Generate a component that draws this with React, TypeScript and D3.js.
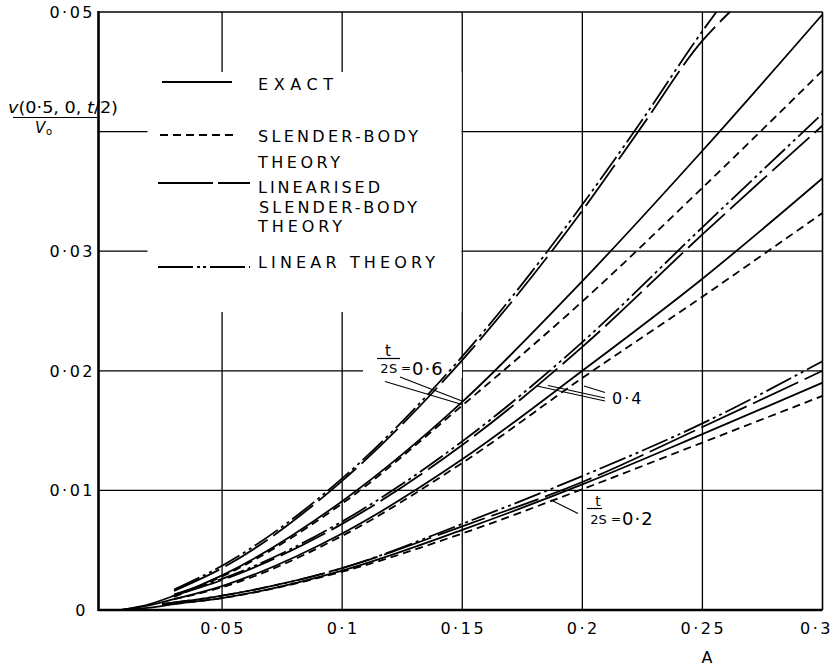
import React from 'react';
import * as d3 from 'd3';

const W = 836;
const H = 669;

// Axis ticks and grid
const xTicks = [0.05, 0.1, 0.15, 0.2, 0.25, 0.3];
const xTickLabels = ['0·05', '0·1', '0·15', '0·2', '0·25', '0·3'];
const yTicks = [0, 0.01, 0.02, 0.03, 0.05];
const yTickLabels = ['0', '0·01', '0·02', '0·03', '0·05'];
const xGrid = [0.05, 0.1, 0.15, 0.2, 0.25];
const yGrid = [0.01, 0.02, 0.03, 0.04];

// v(0.5, 0, t/2)/V0 against A, for t/2s = 0.6, 0.4, 0.2
const exact06 = [[0.008, 0], [0.02, 0.0005], [0.03, 0.0012], [0.05, 0.0029], [0.1, 0.0091], [0.15, 0.0174], [0.2, 0.0275], [0.25, 0.0384], [0.3, 0.0498]];
const slender06 = [[0.03, 0.0011], [0.05, 0.0028], [0.1, 0.0089], [0.15, 0.0171], [0.2, 0.0258], [0.25, 0.0353], [0.3, 0.0451]];
const linSlender06 = [[0.03, 0.0016], [0.05, 0.0035], [0.1, 0.0108], [0.15, 0.0209], [0.2, 0.0334], [0.225, 0.0405], [0.25, 0.0476], [0.2614, 0.05]];
const linear06 = [[0.03, 0.0017], [0.05, 0.0037], [0.1, 0.011], [0.15, 0.0212], [0.2, 0.0339], [0.225, 0.041], [0.25, 0.0484], [0.2558, 0.05]];

const exact04 = [[0.008, 0], [0.02, 0.0004], [0.03, 0.0009], [0.05, 0.002], [0.1, 0.0064], [0.15, 0.0126], [0.2, 0.02], [0.25, 0.0277], [0.3, 0.0361]];
const slender04 = [[0.03, 0.0009], [0.05, 0.0019], [0.1, 0.0062], [0.15, 0.0123], [0.2, 0.0194], [0.25, 0.0262], [0.3, 0.0332]];
const linSlender04 = [[0.03, 0.0012], [0.05, 0.0025], [0.1, 0.0072], [0.15, 0.0138], [0.2, 0.022], [0.25, 0.0314], [0.3, 0.0405]];
const linear04 = [[0.03, 0.0013], [0.05, 0.0026], [0.1, 0.0074], [0.15, 0.0141], [0.2, 0.0224], [0.25, 0.032], [0.3, 0.0415]];

const exact02 = [[0.008, 0], [0.02, 0.0002], [0.03, 0.0005], [0.05, 0.001], [0.1, 0.0033], [0.15, 0.0067], [0.2, 0.0105], [0.25, 0.0147], [0.3, 0.019]];
const slender02 = [[0.025, 0.0004], [0.05, 0.001], [0.1, 0.0032], [0.15, 0.0064], [0.2, 0.0101], [0.25, 0.014], [0.3, 0.0179]];
const linSlender02 = [[0.025, 0.0005], [0.05, 0.0012], [0.1, 0.0035], [0.15, 0.007], [0.2, 0.0107], [0.25, 0.0153], [0.3, 0.02]];
const linear02 = [[0.025, 0.0005], [0.05, 0.0012], [0.1, 0.0035], [0.15, 0.0072], [0.2, 0.0112], [0.25, 0.0156], [0.3, 0.0208]];

const DASH_SLENDER = '8,5';
const DASH_LIN_SLENDER = '50,7';
const DASH_LINEAR = '28,4,3,4,3,4';

const FONT = '"DejaVu Sans", sans-serif';

export default function App() {
  const x = d3.scaleLinear().domain([0, 0.3]).range([102, 822.5]);
  const y = d3.scaleLinear().domain([0, 0.05]).range([610, 12]);
  const line = d3
    .line<number[]>()
    .x((d) => x(d[0]))
    .y((d) => y(d[1]))
    .curve(d3.curveMonotoneX);

  const axisX = x(0) - 3.5;
  const right = x(0.3);
  const top = y(0.05);
  const bottom = y(0);

  const curves = [
    { data: exact06, dash: null },
    { data: slender06, dash: DASH_SLENDER },
    { data: linSlender06, dash: DASH_LIN_SLENDER },
    { data: linear06, dash: DASH_LINEAR },
    { data: exact04, dash: null },
    { data: slender04, dash: DASH_SLENDER },
    { data: linSlender04, dash: DASH_LIN_SLENDER },
    { data: linear04, dash: DASH_LINEAR },
    { data: exact02, dash: null },
    { data: slender02, dash: DASH_SLENDER },
    { data: linSlender02, dash: DASH_LIN_SLENDER },
    { data: linear02, dash: DASH_LINEAR },
  ];

  const legendText = { fontFamily: FONT, fontSize: 16, fill: '#000' } as const;

  return (
    <svg
      width={W}
      height={H}
      viewBox={`0 0 ${W} ${H}`}
      style={{ position: 'absolute', left: 0, top: 0, background: '#fff' }}
    >
      <rect x={0} y={0} width={W} height={H} fill="#fff" />

      {/* grid */}
      <g stroke="#000" strokeWidth={1.3}>
        {xGrid.map((v) => (
          <line key={'gx' + v} x1={x(v)} x2={x(v)} y1={top} y2={bottom} />
        ))}
        {yGrid.map((v) => (
          <line key={'gy' + v} x1={axisX} x2={right} y1={y(v)} y2={y(v)} />
        ))}
      </g>
      {/* clear space for the key and the 0.6 label */}
      <rect x={147.5} y={72} width={314} height={240} fill="#fff" />
      <rect x={363} y={364} width={99} height={14} fill="#fff" />

      {/* frame */}
      <line x1={axisX} x2={right} y1={top} y2={top} stroke="#000" strokeWidth={1.6} />
      <line x1={right} x2={right} y1={top} y2={bottom} stroke="#000" strokeWidth={1.6} />
      <line x1={axisX} x2={axisX} y1={top - 1} y2={bottom + 1} stroke="#000" strokeWidth={2.6} />
      <line x1={axisX} x2={right} y1={bottom} y2={bottom} stroke="#000" strokeWidth={2.6} />

      {/* curves */}
      <g fill="none" stroke="#000" strokeWidth={1.8}>
        {curves.map((c, i) => (
          <path key={i} d={line(c.data as number[][]) || ''} strokeDasharray={c.dash || undefined} />
        ))}
      </g>

      {/* tick labels */}
      <g fontFamily={FONT} fontSize={16} fill="#000" letterSpacing={2.5}>
        {yTicks.map((v, i) => (
          <text key={'yt' + v} x={v === 0 ? 88 : 95} y={y(v) + 6} textAnchor="end">
            {yTickLabels[i]}
          </text>
        ))}
        {xTicks.map((v, i) => (
          <text key={'xt' + v} x={x(v) + 1 - (v === 0.3 ? 7 : 0)} y={634} textAnchor="middle">
            {xTickLabels[i]}
          </text>
        ))}
      </g>
      <text x={707} y={663} fontFamily={FONT} fontSize={16} textAnchor="middle">A</text>

      {/* y-axis quantity */}
      <g fontFamily={FONT} fill="#000">
        <text x={8} y={113} fontSize={15} textLength={110} lengthAdjust="spacingAndGlyphs">
          <tspan fontStyle="italic">v</tspan>(0·5, 0, <tspan fontStyle="italic">t</tspan>/2)
        </text>
        <line x1={13} x2={97} y1={117.5} y2={117.5} stroke="#000" strokeWidth={1.2} />
        <text x={35} y={133} fontSize={15} fontStyle="italic">V</text>
        <text x={46} y={135} fontSize={10}>o</text>
      </g>

      {/* key */}
      <g stroke="#000" strokeWidth={1.8} fill="none">
        <line x1={162} x2={232} y1={82} y2={82} />
        <line x1={160} x2={236} y1={135} y2={135} strokeDasharray={DASH_SLENDER} />
        <line x1={158} x2={250} y1={183} y2={183} strokeDasharray="55,5" />
        <line x1={158} x2={250} y1={267} y2={267} strokeDasharray="35,4,3,3,3,4" />
      </g>
      <g {...legendText}>
        <text x={258} y={90} textLength={75} lengthAdjust="spacing">EXACT</text>
        <text x={258} y={142} textLength={160} lengthAdjust="spacing">SLENDER-BODY</text>
        <text x={258} y={168} textLength={82} lengthAdjust="spacing">THEORY</text>
        <text x={258} y={193} textLength={122} lengthAdjust="spacing">LINEARISED</text>
        <text x={259} y={213} textLength={158} lengthAdjust="spacing">SLENDER-BODY</text>
        <text x={258} y={232} textLength={84} lengthAdjust="spacing">THEORY</text>
        <text x={258} y={268} textLength={177} lengthAdjust="spacing">LINEAR THEORY</text>
      </g>

      {/* t/2s labels */}
      <g fontFamily={FONT} fill="#000">
        <text x={388} y={356} fontSize={15} textAnchor="middle">t</text>
        <line x1={377} x2={400} y1={358.5} y2={358.5} stroke="#000" strokeWidth={1.2} />
        <text x={389} y={373} fontSize={13} textAnchor="middle" letterSpacing={0.5}>2S</text>
        <text x={401} y={372} fontSize={12}>=</text>
        <text x={412} y={375} fontSize={18} letterSpacing={1}>0·6</text>
        <line x1={385} y1={381.5} x2={462} y2={404.5} stroke="#000" strokeWidth={1.1} />
        <line x1={400} y1={377} x2={462} y2={401} stroke="#000" strokeWidth={1.1} />

        <text x={612} y={403.5} fontSize={16} letterSpacing={2}>0·4</text>
        <line x1={537} y1={386} x2={605} y2={401} stroke="#000" strokeWidth={1.1} />
        <line x1={548} y1={385.5} x2={605} y2={398} stroke="#000" strokeWidth={1.1} />
        <line x1={584} y1={386} x2={605} y2={392.5} stroke="#000" strokeWidth={1.1} />

        <text x={598} y={506} fontSize={14} textAnchor="middle">t</text>
        <line x1={587} x2={602} y1={508.5} y2={508.5} stroke="#000" strokeWidth={1.2} />
        <text x={598.5} y={524} fontSize={13} textAnchor="middle">2S</text>
        <text x={611} y={523} fontSize={12}>=</text>
        <text x={622} y={525} fontSize={18} letterSpacing={1}>0·2</text>
        <line x1={551} y1={500} x2={578} y2={513.5} stroke="#000" strokeWidth={1.1} />
      </g>
    </svg>
  );
}
